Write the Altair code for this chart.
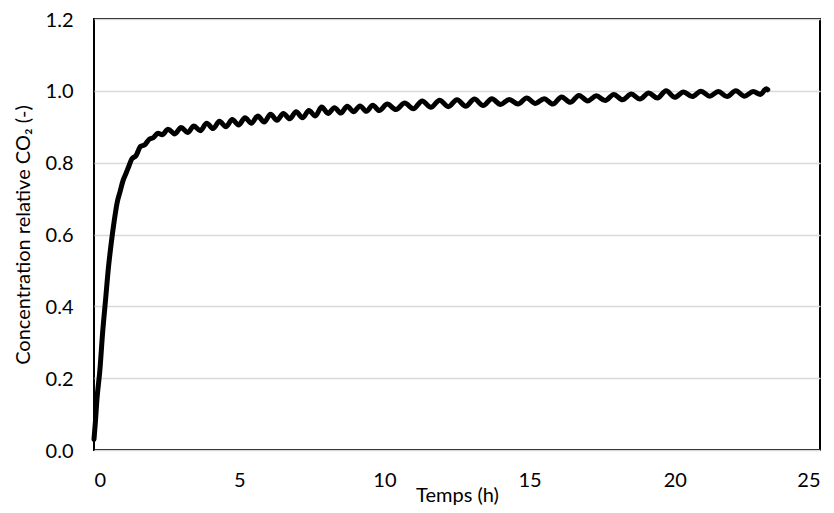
import altair as alt
import pandas as pd

# time (h) and relative CO2 concentration
temps = [0.0, 0.05, 0.1, 0.2, 0.3, 0.4, 0.5, 0.6, 0.7, 0.8, 0.9, 1.0, 1.1, 1.2, 1.3,
         1.45, 1.6, 1.75, 1.9, 2.05, 2.2, 2.35,
         2.55, 2.78, 3.00, 3.22, 3.44, 3.66, 3.88, 4.10, 4.32, 4.54, 4.76, 4.98,
         5.20, 5.42, 5.64, 5.86, 6.08, 6.30, 6.52, 6.74, 6.96, 7.18, 7.40, 7.62,
         7.84, 8.06, 8.28, 8.50, 8.72, 8.94, 9.16, 9.38, 9.60, 9.82,
         10.10, 10.40, 10.70, 11.00, 11.30, 11.60, 11.90, 12.20, 12.50, 12.80,
         13.10, 13.40, 13.70, 14.00, 14.30, 14.60, 14.90, 15.20, 15.50, 15.80,
         16.10, 16.40, 16.70, 17.00, 17.30, 17.60, 17.90, 18.20, 18.50, 18.80,
         19.10, 19.40, 19.70, 20.00, 20.30, 20.60, 20.90, 21.20, 21.50, 21.80,
         22.10, 22.40, 22.70, 22.95, 23.15, 23.20]
conc = [0.03, 0.08, 0.14, 0.22, 0.33, 0.42, 0.51, 0.58, 0.64, 0.69, 0.72, 0.75, 0.77, 0.79, 0.81,
        0.82, 0.845, 0.85, 0.865, 0.87, 0.882, 0.878,
        0.893, 0.880, 0.898, 0.884, 0.902, 0.889, 0.910, 0.895, 0.915, 0.900, 0.920, 0.905,
        0.925, 0.910, 0.930, 0.913, 0.935, 0.918, 0.937, 0.922, 0.942, 0.925, 0.945, 0.930,
        0.955, 0.937, 0.953, 0.938, 0.957, 0.942, 0.958, 0.943, 0.960, 0.945,
        0.963, 0.948, 0.966, 0.950, 0.972, 0.954, 0.974, 0.956, 0.975, 0.957,
        0.977, 0.959, 0.978, 0.962, 0.976, 0.963, 0.980, 0.965, 0.978, 0.963,
        0.983, 0.968, 0.987, 0.972, 0.986, 0.973, 0.990, 0.975, 0.991, 0.977,
        0.994, 0.980, 1.000, 0.982, 0.997, 0.984, 0.999, 0.985, 0.998, 0.984,
        1.000, 0.985, 0.998, 0.990, 1.006, 1.003]

df = pd.DataFrame({"t": temps, "c": conc})

FONT = "Lato"
FS = 20

chart = alt.Chart(df).mark_line(
    color="black", strokeWidth=5, strokeCap="round", strokeJoin="round",
    interpolate="monotone"
).encode(
    x=alt.X("t:Q",
            scale=alt.Scale(domain=[0, 25], nice=False, zero=False),
            axis=alt.Axis(values=[0, 5, 10, 15, 20, 25], title="Temps (h)",
                          grid=False, ticks=False, domain=False,
                          labelPadding=20, titlePadding=-5,
                          labelFontSize=FS, titleFontSize=FS,
                          labelFont=FONT, titleFont=FONT,
                          labelColor="black", titleColor="black",
                          titleFontWeight="normal")),
    y=alt.Y("c:Q",
            scale=alt.Scale(domain=[0, 1.2], nice=False),
            axis=alt.Axis(values=[0, 0.2, 0.4, 0.6, 0.8, 1.0, 1.2], format=".1f",
                          title="Concentration relative CO₂ (-)",
                          grid=True, gridColor="#d9d9d9", gridWidth=1.5,
                          ticks=False, domain=False,
                          labelPadding=21, titlePadding=12, labelOffset=1,
                          labelFontSize=FS, titleFontSize=FS,
                          labelFont=FONT, titleFont=FONT,
                          labelColor="black", titleColor="black",
                          titleFontWeight="normal")),
).properties(
    width=726, height=431,
    background="white",
    autosize=alt.AutoSizeParams(type="none"),
    padding={"left": 86, "top": 11, "right": 6, "bottom": 62},
).configure_view(
    stroke="black", strokeWidth=2
)

chart.save("out.html", embed_options={"renderer": "svg", "actions": False})
